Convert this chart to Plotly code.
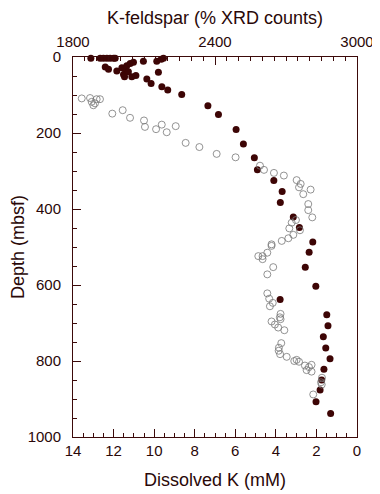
import plotly.graph_objects as go

# Dissolved K (mM) vs depth (mbsf) - filled dots
k_depth = [3, 3, 3, 3, 3, 3, 3, 26, 32, 37, 28, 32, 23, 17, 14, 46, 52, 52, 49, 39,
           11, 11, 6, 3, 40, 58, 70, 78, 87, 99, 128, 151, 191, 229, 265, 297, 325,
           354, 383, 421, 449, 487, 514, 553, 603, 638, 678, 707, 736, 766, 794,
           822, 850, 876, 907, 938]
k_mm = [13.12, 12.66, 12.5, 12.33, 12.17, 12.0, 11.92, 12.41, 12.25, 11.84, 11.59,
        11.43, 11.35, 11.18, 11.02, 11.51, 11.46, 11.1, 10.9, 11.27, 10.53, 9.87,
        9.65, 9.54, 9.79, 10.36, 10.15, 9.62, 9.33, 8.64, 7.35, 6.83, 5.96, 5.6,
        5.06, 4.91, 4.1, 3.69, 3.78, 3.14, 2.84, 2.18, 2.36, 2.55, 2.03, 3.79,
        1.49, 1.43, 1.66, 1.54, 1.33, 1.63, 1.74, 1.82, 2.02, 1.3]

# K-feldspar (% XRD counts) vs depth - open circles
kf_depth = [109, 108, 118, 127, 122, 111, 111, 149, 140, 160, 167, 184, 190, 178,
            198, 182, 226, 237, 255, 264, 286, 297, 305, 312, 324, 334, 343, 361,
            349, 387, 403, 422, 429, 436, 451, 456, 468, 477, 484, 493, 497, 515,
            524, 524, 532, 553, 572, 622, 636, 647, 656, 676, 685, 690, 696, 704,
            712, 719, 753, 765, 773, 782, 789, 800, 797, 802, 812, 816, 810, 824,
            828, 844, 856, 862, 888]
kf_val = [1837, 1872, 1879, 1886, 1893, 1900, 1914, 1966, 2010, 2041, 2100, 2104,
          2151, 2175, 2196, 2234, 2276, 2334, 2407, 2487, 2590, 2607, 2649, 2691,
          2745, 2762, 2755, 2773, 2804, 2794, 2794, 2811, 2742, 2724, 2714, 2759,
          2731, 2710, 2682, 2639, 2639, 2621, 2601, 2583, 2601, 2646, 2621, 2621,
          2629, 2644, 2632, 2677, 2674, 2677, 2639, 2653, 2667, 2693, 2680, 2670,
          2669, 2675, 2703, 2735, 2745, 2755, 2780, 2797, 2808, 2787, 2808, 2852,
          2848, 2851, 2815]

AX = "#3c0a0a"
TXT = "#2a0808"
FONT = "Liberation Sans, Arial, Helvetica, sans-serif"

fig = go.Figure()
fig.add_trace(go.Scatter(
    x=kf_val, y=kf_depth, xaxis="x2", yaxis="y", mode="markers",
    marker=dict(symbol="circle-open", size=7, color="#777777", line=dict(width=0.8)),
    showlegend=False, cliponaxis=False))
fig.add_trace(go.Scatter(
    x=k_mm, y=k_depth, xaxis="x", yaxis="y", mode="markers",
    marker=dict(symbol="circle", size=7, color="#3d0505"),
    showlegend=False, cliponaxis=False))

common = dict(showgrid=False, zeroline=False, showline=True, linecolor=AX,
              linewidth=1, ticks="inside", tickcolor=AX, ticklen=8, tickwidth=1,
              automargin=False,
              tickfont=dict(family=FONT, size=15, color=TXT))
TF = dict(family=FONT, size=18, color=TXT)

# page body adds an 8px offset; the figure is sized to fill the rest of the window
fig.update_layout(
    width=372, height=486,
    margin=dict(l=65, r=23, t=49, b=57),
    paper_bgcolor="white", plot_bgcolor="white",
    font=dict(family=FONT, color=TXT),
    xaxis=dict(range=[14, 0], tickvals=[14, 12, 10, 8, 6, 4, 2, 0],
               minor=dict(dtick=0.5, ticks="inside", ticklen=4, tickcolor=AX),
               title=dict(text="Dissolved K (mM)", font=TF, standoff=15),
               mirror=False, **common),
    xaxis2=dict(range=[1800, 3000], overlaying="x", side="top", anchor="y",
                tickvals=[1800, 2400, 3000],
                minor=dict(dtick=50, ticks="inside", ticklen=4, tickcolor=AX),
                ticklabelstandoff=3,
                title=dict(text="K-feldspar (% XRD counts)", font=TF, standoff=3),
                **common),
    yaxis=dict(range=[1000, 0], tickvals=[0, 200, 400, 600, 800, 1000],
               minor=dict(dtick=50, ticks="inside", ticklen=4, tickcolor=AX),
               ticklabelstandoff=8,
               title=dict(text="Depth (mbsf)", font=TF, standoff=5),
               mirror=True, **common),
)

fig.write_html("out.html")
